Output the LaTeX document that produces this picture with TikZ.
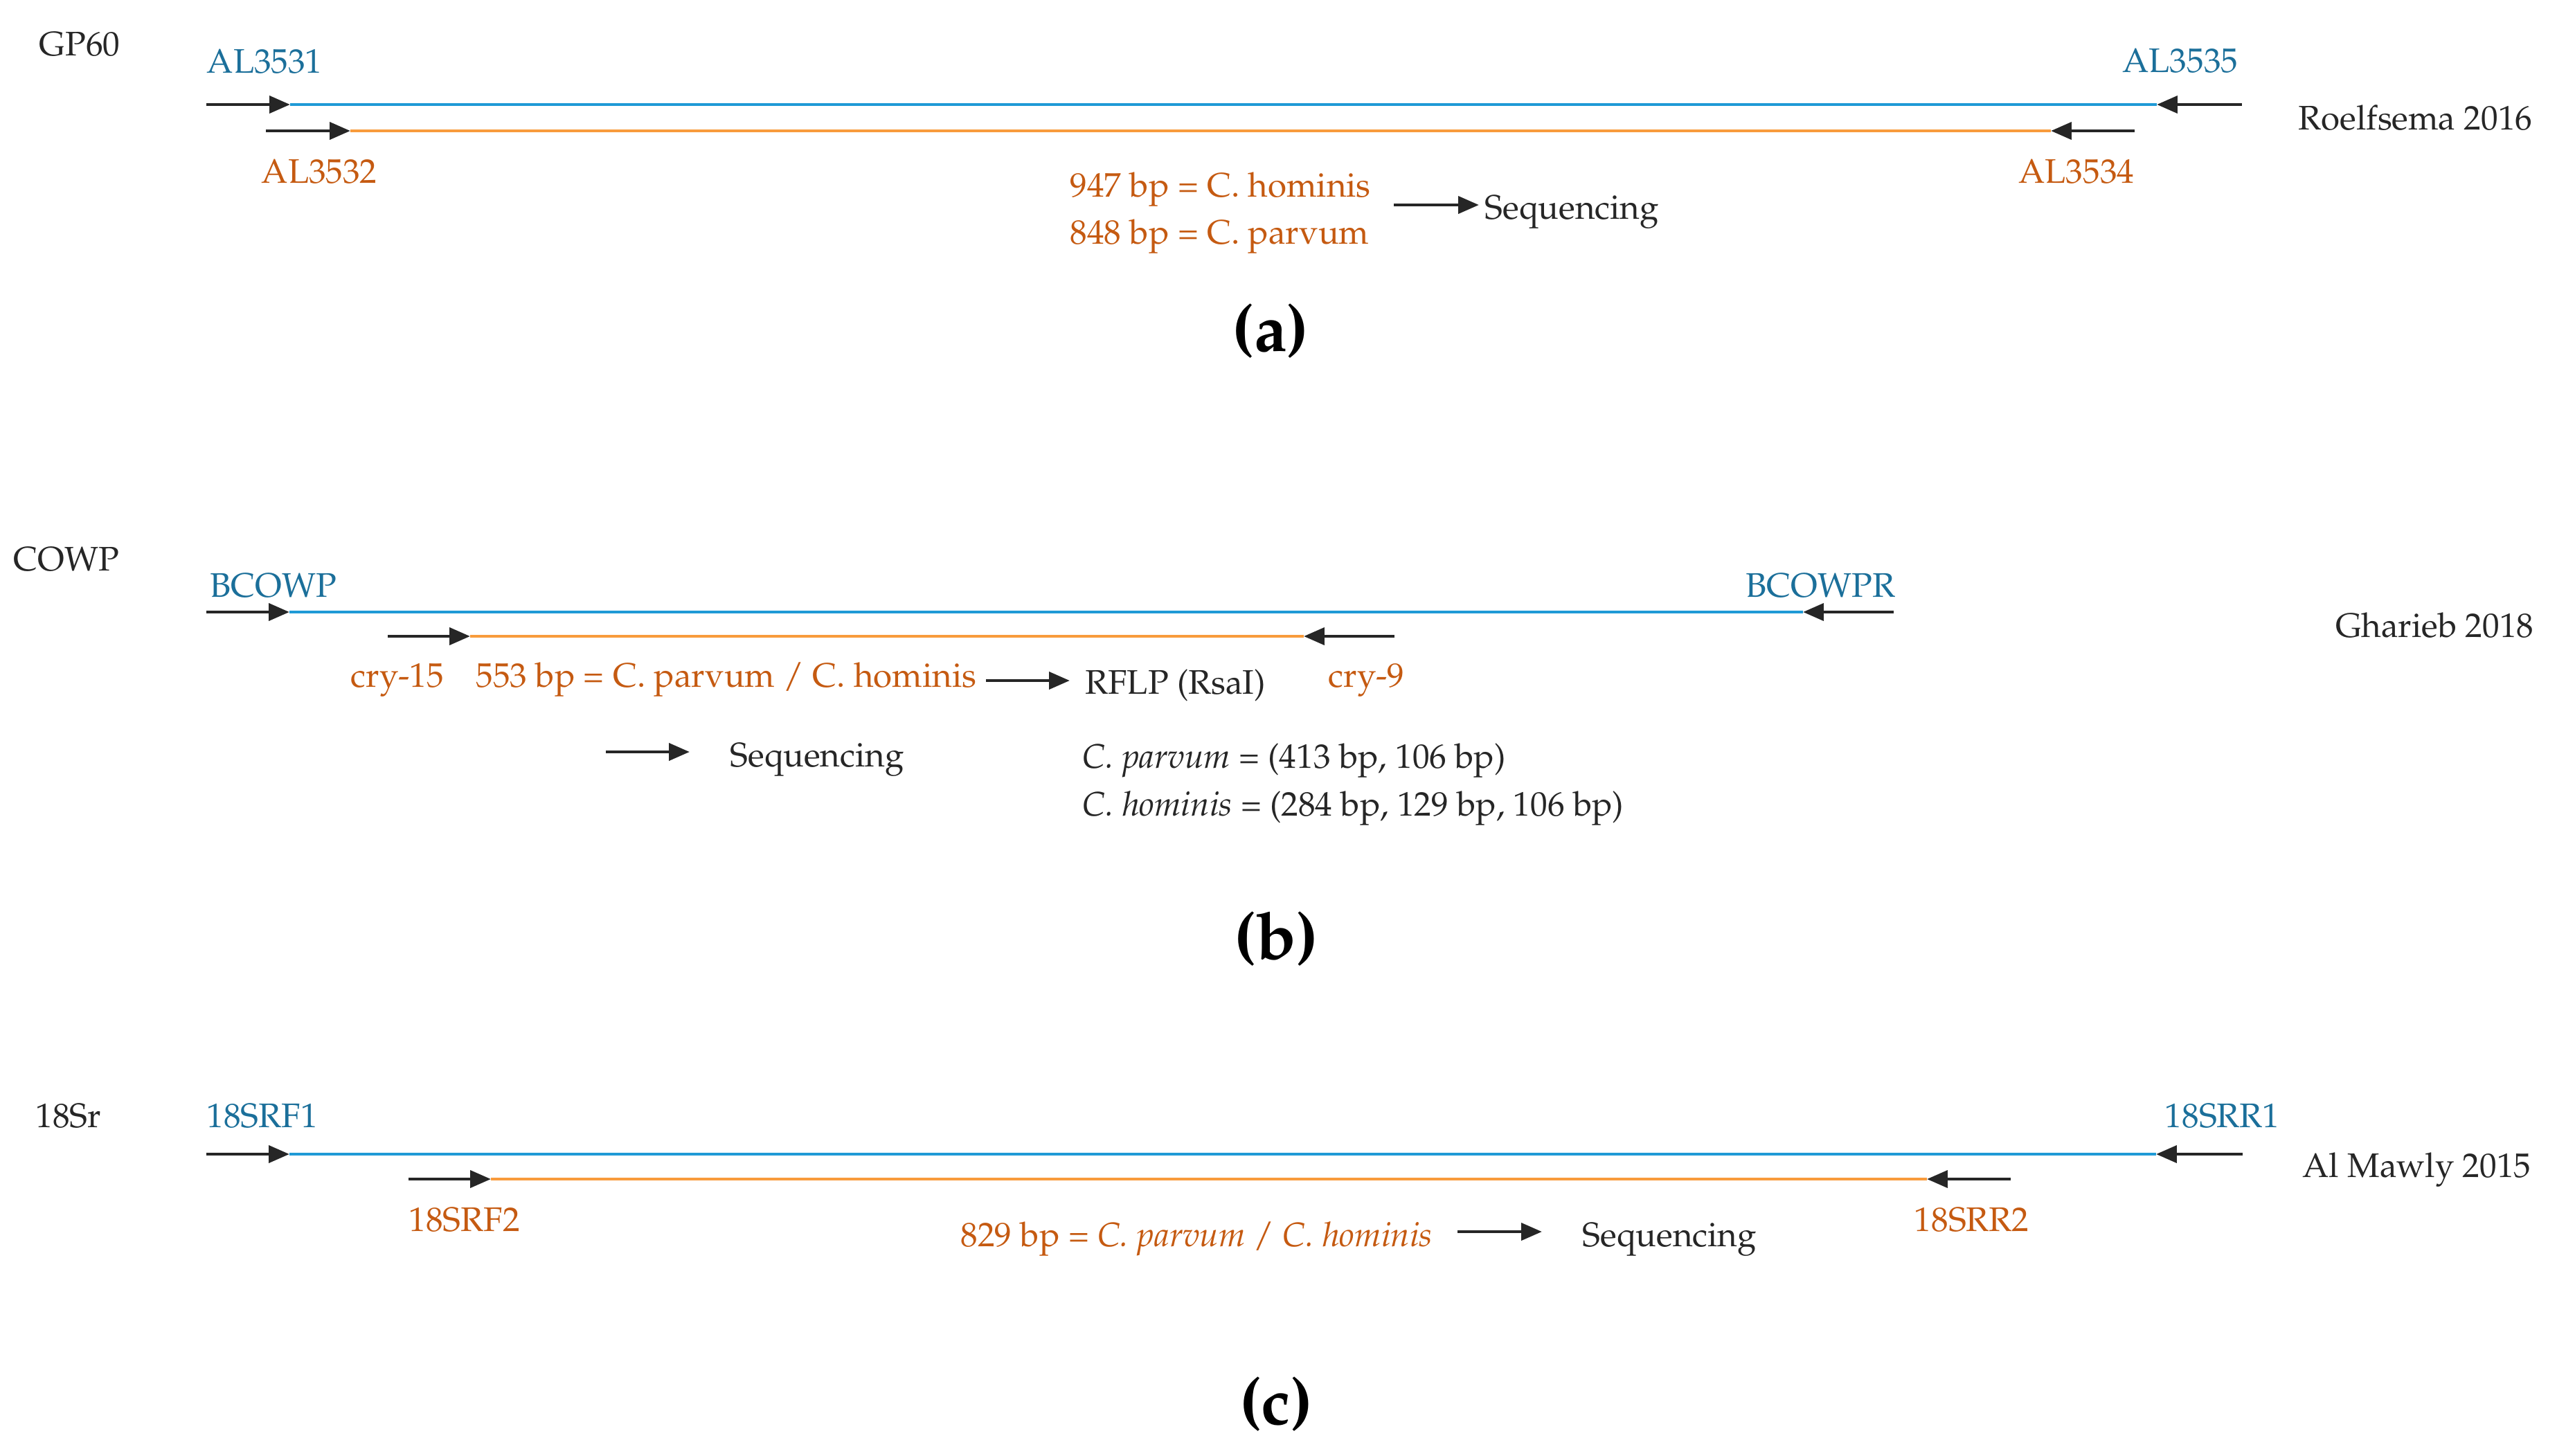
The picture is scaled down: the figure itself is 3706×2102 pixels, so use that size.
\documentclass[tikz,border=0pt]{standalone}
\usepackage[T1]{fontenc}
\usepackage{mathpazo}
\usetikzlibrary{arrows.meta}
\definecolor{outblue}{HTML}{1B6F9A}
\definecolor{outline}{HTML}{1F9AD6}
\definecolor{inorange}{HTML}{C55A11}
\definecolor{inline}{HTML}{F89B3C}
\tikzset{
    primer/.style={draw=black!85,line width=1.4pt},
    ampout/.style={draw=outline,line width=1.4pt},
    ampin/.style={draw=inline,line width=1.4pt},
    outname/.style={text=outblue,inner sep=0pt,anchor=base west},
    inname/.style={text=inorange,inner sep=0pt,anchor=base west},
    plain/.style={text=black!85,inner sep=0pt,anchor=base west},
    panel/.style={text=black,inner sep=0pt,anchor=base,font=\fontsize{27}{32}\selectfont\bfseries},
}

\begin{document}
\begin{tikzpicture}[x=0.01cm,y=-0.01cm,>={Triangle[length=8.5pt,width=7pt]},every node/.style={font=\fontsize{14}{17}\selectfont}]
\useasboundingbox (0,0) rectangle (3706,2102);

\node[plain] (gp) at (56,80) {GP60};
\node[outname] (al1) at (298,105) {AL3531};
\node[outname,anchor=base east] (al5) at (3233,104) {AL3535};
\node[inname] (al2) at (377,264) {AL3532};
\node[inname,anchor=base east] (al4) at (3083,264) {AL3534};
\node[plain,anchor=base east] (refa) at (3658,187) {Roelfsema 2016};
\node[inname] (homa) at (1545,284) {947 bp = C. hominis};
\node[inname] (para) at (1545,352) {848 bp = C. parvum};
\node[plain] (seqa) at (2144,316) {Sequencing};
\node[panel] (la) at (1835,507) {(a)};
\coordinate (al1s) at (298,151);
\coordinate (al1t) at (419,151);
\coordinate (al5s) at (3238,151);
\coordinate (al5t) at (3115,151);
\coordinate (al2s) at (384,189);
\coordinate (al2t) at (506,189);
\coordinate (al4s) at (3083,189);
\coordinate (al4t) at (2962,189);
\coordinate (sqa) at (2013,296);
\coordinate (sqat) at (2136,296);
\draw[ampout] (al1t) -- (al5t);
\draw[ampin] (al2t) -- (al4t);
\draw[primer,->] (al1s) -- (al1t);
\draw[primer,->] (al5s) -- (al5t);
\draw[primer,->] (al2s) -- (al2t);
\draw[primer,->] (al4s) -- (al4t);
\draw[primer,->] (sqa) -- (sqat);

\node[plain] (cowp) at (19,824) {COWP};
\node[outname] (bcf) at (303,862) {BCOWP};
\node[outname,anchor=base east] (bcr) at (2738,862) {BCOWPR};
\node[plain,anchor=base east] (refb) at (3660,920) {Gharieb 2018};
\node[inname] (cry15) at (506,992) {cry-15};
\node[inname] (bpb) at (687,992) {553 bp = C. parvum / C. hominis};
\node[plain] (rflp) at (1567,1002) {RFLP (RsaI)};
\node[inname] (cry9) at (1918,992) {cry-9};
\node[plain] (seqb) at (1054,1107) {Sequencing};
\node[plain] (cpar) at (1563,1109) {\textit{C. parvum} = (413 bp, 106 bp)};
\node[plain] (chom) at (1563,1178) {\textit{C. hominis} = (284 bp, 129 bp, 106 bp)};
\node[panel] (lb) at (1843,1385) {(b)};
\coordinate (bcfs) at (298,884);
\coordinate (bcft) at (418,884);
\coordinate (bcrs) at (2735,884);
\coordinate (bcrt) at (2604,884);
\coordinate (c15s) at (560,919);
\coordinate (c15t) at (679,919);
\coordinate (c9s) at (2014,919);
\coordinate (c9t) at (1883,919);
\coordinate (rfs) at (1424,983);
\coordinate (rft) at (1545,983);
\coordinate (sqb) at (875,1086);
\coordinate (sqbt) at (996,1086);
\draw[ampout] (bcft) -- (bcrt);
\draw[ampin] (c15t) -- (c9t);
\draw[primer,->] (bcfs) -- (bcft);
\draw[primer,->] (bcrs) -- (bcrt);
\draw[primer,->] (c15s) -- (c15t);
\draw[primer,->] (c9s) -- (c9t);
\draw[primer,->] (rfs) -- (rft);
\draw[primer,->] (sqb) -- (sqbt);

\node[plain] (ssr) at (51,1628) {18Sr};
\node[outname] (sf1) at (298,1628) {18SRF1};
\node[outname,anchor=base east] (sr1) at (3293,1628) {18SRR1};
\node[plain,anchor=base east] (refc) at (3656,1700) {Al Mawly 2015};
\node[inname] (sf2) at (590,1778) {18SRF2};
\node[inname,anchor=base east] (sr2) at (2931,1778) {18SRR2};
\node[inname] (bpc) at (1387,1800) {829 bp = \textit{C. parvum} / \textit{C. hominis}};
\node[plain] (seqc) at (2285,1800) {Sequencing};
\node[panel] (lc) at (1843,2057) {(c)};
\coordinate (sf1s) at (298,1667);
\coordinate (sf1t) at (418,1667);
\coordinate (sr1s) at (3239,1667);
\coordinate (sr1t) at (3114,1667);
\coordinate (sf2s) at (590,1703);
\coordinate (sf2t) at (709,1703);
\coordinate (sr2s) at (2904,1703);
\coordinate (sr2t) at (2783,1703);
\coordinate (sqc) at (2105,1779);
\coordinate (sqct) at (2227,1779);
\draw[ampout] (sf1t) -- (sr1t);
\draw[ampin] (sf2t) -- (sr2t);
\draw[primer,->] (sf1s) -- (sf1t);
\draw[primer,->] (sr1s) -- (sr1t);
\draw[primer,->] (sf2s) -- (sf2t);
\draw[primer,->] (sr2s) -- (sr2t);
\draw[primer,->] (sqc) -- (sqct);
\end{tikzpicture}
\end{document}
